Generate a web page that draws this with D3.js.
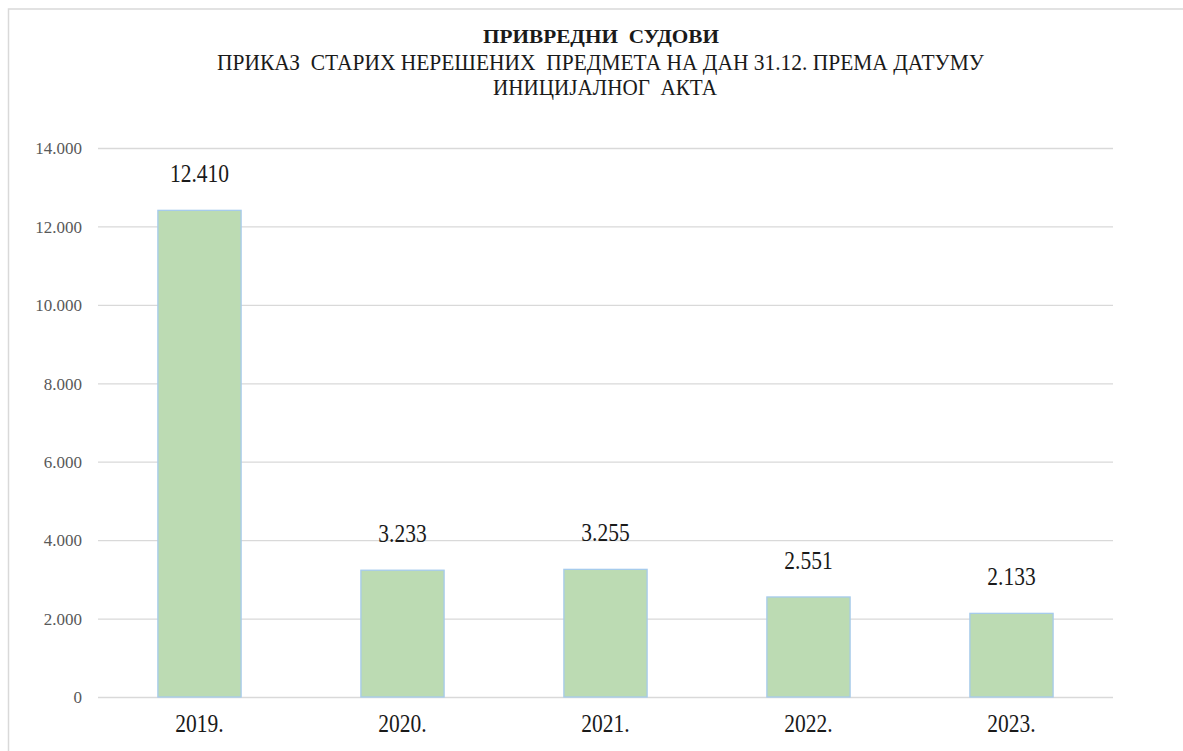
<!DOCTYPE html>
<html>
<head>
<meta charset="utf-8">
<script src="https://cdn.jsdelivr.net/npm/d3@7/dist/d3.min.js"></script>
<style>
html,body{margin:0;padding:0;background:#fff;}
svg{display:block;}
</style>
</head>
<body>
<svg id="chart" width="1183" height="751"></svg>
<script>
const categories = ["2019.", "2020.", "2021.", "2022.", "2023."];
const values = [12410, 3233, 3255, 2551, 2133];
const yTicks = [0, 2000, 4000, 6000, 8000, 10000, 12000, 14000];
const titleLines = ["ПРИВРЕДНИ  СУДОВИ", "ПРИКАЗ  СТАРИХ НЕРЕШЕНИХ  ПРЕДМЕТА НА ДАН 31.12. ПРЕМА ДАТУМУ", "ИНИЦИЈАЛНОГ  АКТА"];

const FONT = "Liberation Serif";
const svg = d3.select("#chart");
const m = {left: 98, right: 1113, top: 148, bottom: 697};

// chart border
svg.append("rect").attr("x", 8.5).attr("y", 9).attr("width", 1183).attr("height", 760)
  .attr("fill", "none").attr("stroke", "#d9d9d9").attr("stroke-width", 1.5);

const fmt = v => d3.format(",")(v).replace(/,/g, ".");

const x = d3.scaleBand().domain(categories).range([m.left, m.right]).paddingInner(0.59).paddingOuter(0.295);
const y = d3.scaleLinear().domain([0, 14000]).range([m.bottom, m.top]);

// gridlines + y tick labels
const yAxis = d3.axisLeft(y).tickValues(yTicks).tickSize(-(m.right - m.left)).tickFormat(fmt).tickPadding(16);
const gy = svg.append("g").attr("transform", `translate(${m.left},0)`).call(yAxis);
gy.attr("font-family", FONT);
gy.select(".domain").remove();
gy.selectAll(".tick line").attr("stroke", "#d9d9d9").attr("stroke-width", 1.3);
gy.selectAll(".tick text").attr("fill", "#595959").attr("font-size", 17).attr("font-family", FONT).attr("dy", "0.34em");

// bars
svg.append("g").selectAll("rect").data(values).join("rect")
  .attr("x", (d, i) => x(categories[i]))
  .attr("y", d => y(d))
  .attr("width", x.bandwidth())
  .attr("height", d => y(0) - y(d))
  .attr("fill", "#bcdbb3")
  .attr("stroke", "#a6cbec")
  .attr("stroke-width", 1.3);

// value labels (narrow Times look)
svg.append("g").selectAll("text").data(values).join("text")
  .attr("transform", (d, i) => `translate(${x(categories[i]) + x.bandwidth() / 2},${y(d) - 28}) scale(0.86,1)`)
  .attr("text-anchor", "middle")
  .attr("font-family", FONT)
  .attr("font-size", 25)
  .attr("fill", "#1a1a1a")
  .text(d => fmt(d));

// x axis labels
const xAxis = d3.axisBottom(x).tickSize(0).tickPadding(0);
const gx = svg.append("g").attr("transform", `translate(0,${m.bottom})`).call(xAxis);
gx.attr("font-family", FONT);
gx.select(".domain").remove();
gx.selectAll(".tick text")
  .attr("y", null).attr("dy", null)
  .attr("transform", "translate(0,35) scale(0.86,1)")
  .attr("fill", "#1a1a1a").attr("font-size", 25).attr("font-family", FONT);

// title
const tg = svg.append("g").attr("text-anchor", "middle").attr("fill", "#1a1a1a").attr("font-family", FONT);
tg.append("text").attr("x", 601).attr("y", 43).attr("font-size", 19).attr("font-weight", "bold")
  .attr("textLength", 236).attr("lengthAdjust", "spacingAndGlyphs")
  .style("white-space", "pre").text(titleLines[0]);
tg.append("text").attr("x", 600.5).attr("y", 70).attr("font-size", 23)
  .attr("textLength", 767).attr("lengthAdjust", "spacingAndGlyphs")
  .style("white-space", "pre").text(titleLines[1]);
tg.append("text").attr("x", 605).attr("y", 94.5).attr("font-size", 23)
  .attr("textLength", 224).attr("lengthAdjust", "spacingAndGlyphs")
  .style("white-space", "pre").text(titleLines[2]);
</script>
</body>
</html>
